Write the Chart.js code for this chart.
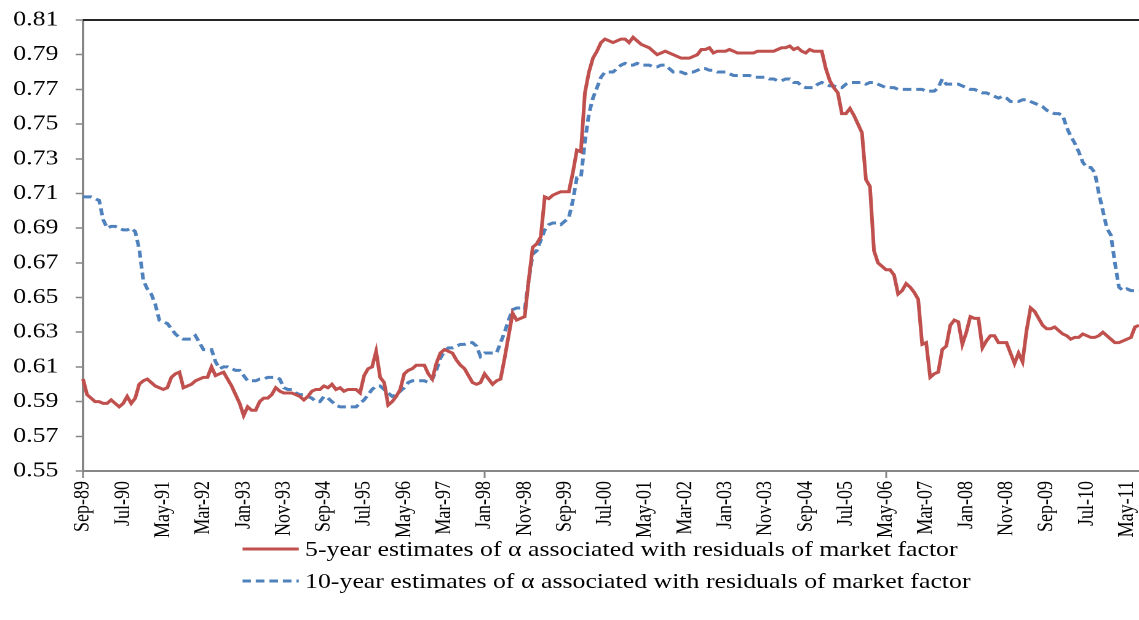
<!DOCTYPE html>
<html>
<head>
<meta charset="utf-8">
<script src="https://cdn.jsdelivr.net/npm/chart.js@4.4.1/dist/chart.umd.min.js"></script>
<style>
    html, body { margin: 0; padding: 0; background: #fff; overflow: hidden; }
    /* the reference text is wide, so draw narrow and scale sideways */
    #wrap { position: relative; width: 926px; height: 620px; transform: scaleX(1.23); transform-origin: 0 0; }
    #legend { position: absolute; left: 197px; top: 533px; font: 21px "Liberation Serif", "Times New Roman", serif; color: #000; }
    #legend .row { display: flex; align-items: center; height: 32px; white-space: nowrap; }
    #legend svg { margin-right: 5px; }
</style>
</head>
<body>
<div id="wrap">
    <canvas id="chart" width="926" height="620"></canvas>
    <div id="legend"></div>
</div>
<script>
// monthly categories, Sep-89 .. Aug-11
var monthNames = ["Jan", "Feb", "Mar", "Apr", "May", "Jun", "Jul", "Aug", "Sep", "Oct", "Nov", "Dec"];
var months = [];
for (var m = 0; m < 264; m++) {
    var k = 8 + m;
    var yr = (89 + Math.floor(k / 12)) % 100;
    months.push(monthNames[k % 12] + "-" + (yr < 10 ? "0" + yr : "" + yr));
}

var yTicks = [0.55, 0.57, 0.59, 0.61, 0.63, 0.65, 0.67, 0.69, 0.71, 0.73, 0.75, 0.77, 0.79, 0.81];

var fiveYearLabel = "5-year estimates of \u03b1 associated with residuals of market factor";
var tenYearLabel = "10-year estimates of \u03b1 associated with residuals of market factor";

var fiveYear = [
    0.603, 0.594, 0.592, 0.590, 0.590, 0.589, 0.589, 0.591, 0.589, 0.587, 0.589, 0.593,
    0.589, 0.592, 0.600, 0.602, 0.603, 0.601, 0.599, 0.598, 0.597, 0.598, 0.604, 0.606,
    0.607, 0.598, 0.599, 0.600, 0.602, 0.603, 0.604, 0.604, 0.610, 0.605, 0.606, 0.607,
    0.603, 0.599, 0.594, 0.589, 0.582, 0.587, 0.585, 0.585, 0.590, 0.592, 0.592, 0.594,
    0.598, 0.596, 0.595, 0.595, 0.595, 0.594, 0.593, 0.591, 0.593, 0.596, 0.597, 0.597,
    0.599, 0.598, 0.600, 0.597, 0.598, 0.596, 0.597, 0.597, 0.597, 0.595, 0.605, 0.609,
    0.610, 0.619, 0.604, 0.601, 0.588, 0.590, 0.593, 0.597, 0.606, 0.608, 0.609, 0.611,
    0.611, 0.611, 0.606, 0.603, 0.612, 0.618, 0.620, 0.619, 0.618, 0.614, 0.611, 0.609,
    0.605, 0.601, 0.600, 0.601, 0.606, 0.603, 0.600, 0.602, 0.603, 0.615, 0.628, 0.641,
    0.637, 0.638, 0.639, 0.660, 0.679, 0.681, 0.685, 0.708, 0.707, 0.709, 0.710, 0.711,
    0.711, 0.711, 0.722, 0.735, 0.734, 0.768, 0.780, 0.788, 0.792, 0.797, 0.799, 0.798,
    0.797, 0.798, 0.799, 0.799, 0.797, 0.800, 0.798, 0.796, 0.795, 0.794, 0.792, 0.790,
    0.791, 0.792, 0.791, 0.790, 0.789, 0.788, 0.788, 0.788, 0.789, 0.790, 0.793, 0.793,
    0.794, 0.791, 0.792, 0.792, 0.792, 0.793, 0.792, 0.791, 0.791, 0.791, 0.791, 0.791,
    0.792, 0.792, 0.792, 0.792, 0.792, 0.793, 0.794, 0.794, 0.795, 0.793, 0.794, 0.792,
    0.791, 0.793, 0.792, 0.792, 0.792, 0.782, 0.775, 0.771, 0.768, 0.756, 0.756, 0.759,
    0.755, 0.750, 0.745, 0.718, 0.714, 0.677, 0.670, 0.668, 0.666, 0.666, 0.663, 0.652,
    0.654, 0.658, 0.656, 0.653, 0.649, 0.623, 0.624, 0.604, 0.606, 0.607, 0.620, 0.622,
    0.634, 0.637, 0.636, 0.623, 0.630, 0.639, 0.638, 0.638, 0.621, 0.625, 0.628, 0.628,
    0.624, 0.624, 0.624, 0.618, 0.612, 0.618, 0.613, 0.631, 0.644, 0.642, 0.638, 0.634,
    0.632, 0.632, 0.633, 0.631, 0.629, 0.628, 0.626, 0.627, 0.627, 0.629, 0.628, 0.627,
    0.627, 0.628, 0.630, 0.628, 0.626, 0.624, 0.624, 0.625, 0.626, 0.627, 0.633, 0.634
];

var tenYear = [
    0.708, 0.708, 0.708, 0.707, 0.706, 0.695, 0.690, 0.691, 0.691, 0.690, 0.689, 0.689,
    0.690, 0.688, 0.678, 0.660, 0.655, 0.652, 0.646, 0.637, 0.636, 0.635, 0.632, 0.629,
    0.627, 0.626, 0.626, 0.626, 0.628, 0.624, 0.620, 0.620, 0.620, 0.613, 0.609, 0.610,
    0.610, 0.609, 0.608, 0.608, 0.605, 0.602, 0.602, 0.602, 0.603, 0.603, 0.604, 0.604,
    0.604, 0.603, 0.598, 0.597, 0.597, 0.595, 0.594, 0.594, 0.593, 0.592, 0.590, 0.590,
    0.593, 0.592, 0.590, 0.588, 0.587, 0.587, 0.587, 0.587, 0.587, 0.589, 0.591, 0.594,
    0.597, 0.599, 0.599, 0.597, 0.595, 0.593, 0.594, 0.596, 0.598, 0.601, 0.602, 0.602,
    0.602, 0.602, 0.601, 0.603, 0.608, 0.615, 0.619, 0.621, 0.621, 0.622, 0.623, 0.623,
    0.624, 0.624, 0.622, 0.616, 0.618, 0.618, 0.618, 0.618, 0.624, 0.630, 0.637, 0.643,
    0.644, 0.644, 0.643, 0.660, 0.675, 0.677, 0.683, 0.689, 0.692, 0.693, 0.693, 0.692,
    0.694, 0.696, 0.706, 0.719, 0.719, 0.740, 0.756, 0.765, 0.771, 0.777, 0.780, 0.780,
    0.780, 0.782, 0.784, 0.785, 0.784, 0.784, 0.785, 0.784, 0.784, 0.784, 0.783, 0.783,
    0.784, 0.784, 0.782, 0.780, 0.780, 0.780, 0.779, 0.780, 0.780, 0.781, 0.782, 0.782,
    0.781, 0.781, 0.780, 0.780, 0.780, 0.779, 0.778, 0.778, 0.778, 0.778, 0.778, 0.777,
    0.777, 0.777, 0.777, 0.776, 0.776, 0.775, 0.775, 0.776, 0.776, 0.774, 0.774, 0.772,
    0.771, 0.771, 0.771, 0.773, 0.774, 0.773, 0.772, 0.772, 0.771, 0.771, 0.773, 0.774,
    0.774, 0.774, 0.774, 0.773, 0.774, 0.774, 0.773, 0.772, 0.771, 0.771, 0.771, 0.770,
    0.770, 0.770, 0.770, 0.770, 0.770, 0.770, 0.769, 0.769, 0.769, 0.771, 0.776, 0.773,
    0.773, 0.773, 0.773, 0.772, 0.771, 0.770, 0.770, 0.769, 0.768, 0.768, 0.767, 0.766,
    0.765, 0.766, 0.765, 0.763, 0.763, 0.763, 0.764, 0.764, 0.763, 0.762, 0.761, 0.760,
    0.758, 0.757, 0.756, 0.756, 0.755, 0.748, 0.743, 0.739, 0.734, 0.728, 0.725, 0.725,
    0.722, 0.710, 0.700, 0.690, 0.686, 0.670, 0.656, 0.654, 0.655, 0.654, 0.654, 0.654
];

var fontFamily = '"Liberation Serif", "Times New Roman", serif';
var axisGrey = "#868686";

// dark line along the top of the plot area
var topBorder = {
    id: "topBorder",
    afterDraw: function (chart) {
        var ctx = chart.ctx;
        var area = chart.chartArea;
        ctx.save();
        ctx.strokeStyle = "#262626";
        ctx.lineWidth = 2;
        ctx.beginPath();
        ctx.moveTo(area.left, area.top);
        ctx.lineTo(area.right + 2, area.top);
        ctx.stroke();
        ctx.restore();
    }
};

var chart = new Chart(document.getElementById("chart"), {
    type: "line",
    data: {
        labels: months,
        datasets: [
            {
                label: fiveYearLabel,
                data: fiveYear,
                borderColor: "#C0504D",
                backgroundColor: "#C0504D",
                borderWidth: 3,
                pointRadius: 0,
                tension: 0,
                fill: false
            },
            {
                label: tenYearLabel,
                data: tenYear,
                borderColor: "#4F81BD",
                backgroundColor: "#4F81BD",
                borderWidth: 3,
                borderDash: [7, 4],
                pointRadius: 0,
                tension: 0,
                fill: false
            }
        ]
    },
    options: {
        responsive: false,
        animation: false,
        devicePixelRatio: 2,
        layout: {padding: {left: 0, top: 20, right: 0, bottom: 0}},
        plugins: {
            legend: {display: false},
            tooltip: {enabled: false}
        },
        scales: {
            x: {
                // plot runs to the right edge, axis band fills the rest below
                afterFit: function (scale) {
                    scale.height = 149;
                    scale.paddingLeft = 0;
                    scale.paddingRight = 0;
                },
                grid: {
                    drawOnChartArea: false,
                    tickLength: 7,
                    tickWidth: 1.5,
                    tickColor: function (ctx) {
                        return ctx.index % 10 === 0 ? axisGrey : "rgba(0,0,0,0)";
                    }
                },
                border: {color: axisGrey, width: 2},
                ticks: {
                    autoSkip: false,
                    maxRotation: 90,
                    minRotation: 90,
                    padding: 3,
                    color: "#000",
                    font: {family: fontFamily, size: 18},
                    callback: function (value, index) {
                        return index % 10 === 0 ? months[index] : null;
                    }
                }
            },
            y: {
                min: yTicks[0],
                max: yTicks[yTicks.length - 1],
                afterFit: function (scale) {
                    scale.width = 67.5;
                    scale.paddingTop = 0;
                    scale.paddingBottom = 0;
                },
                grid: {drawOnChartArea: false, tickLength: 6, tickWidth: 1.5, tickColor: axisGrey},
                border: {color: axisGrey, width: 2},
                ticks: {
                    stepSize: 0.02,
                    padding: 14,
                    color: "#000",
                    font: {family: fontFamily, size: 21},
                    callback: function (value) {
                        return value.toFixed(2);
                    }
                }
            }
        }
    },
    plugins: [topBorder]
});

// legend below the axis, one row per series
var legend = document.getElementById("legend");
chart.data.datasets.forEach(function (ds) {
    var row = document.createElement("div");
    row.className = "row";
    var dash = ds.borderDash ? ' stroke-dasharray="' + ds.borderDash.join(" ") + '"' : "";
    row.innerHTML = '<svg width="46" height="6"><line x1="0" y1="3" x2="46" y2="3" stroke="' +
        ds.borderColor + '" stroke-width="3"' + dash + '/></svg><span></span>';
    row.querySelector("span").textContent = ds.label;
    legend.appendChild(row);
});
</script>
</body>
</html>
